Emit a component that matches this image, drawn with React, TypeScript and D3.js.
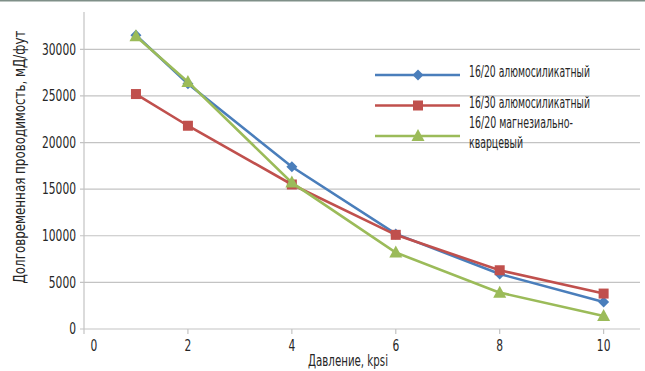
import * as d3 from "d3";
import { useLayoutEffect, useRef, useState } from "react";

const pressure = [1, 2, 4, 6, 8, 10];
const seriesNames = [
  ["16/20 алюмосиликатный"],
  ["16/30 алюмосиликатный"],
  ["16/20 магнезиально-", "кварцевый"],
];
const alumo1620 = [31500, 26300, 17400, 10200, 5900, 2900];
const alumo1630 = [25200, 21800, 15500, 10100, 6300, 3800];
const magnez1620 = [31400, 26500, 15700, 8200, 3900, 1400];
const xTicks = [0, 2, 4, 6, 8, 10];
const yTicks = [0, 5000, 10000, 15000, 20000, 25000, 30000];

const colors = ["#4a7ebb", "#c0504d", "#9bbb59"];
const markers = ["diamond", "square", "triangle"];
// approximate widths of the condensed labels in the source
const legendWidths = [[121], [121], [104, 54]];

const width = 645;
const height = 371;
const margin = { top: 12, right: 5, bottom: 42, left: 84 };
const font = "'DejaVu Sans Condensed', 'Liberation Sans Narrow', sans-serif";
const txt = "#262626";

// squeeze text horizontally to the width it has in the (condensed-font) original
const FitText = ({
  x,
  y,
  w,
  anchor = "start",
  rotate = 0,
  size = 15,
  children,
}: {
  x: number;
  y: number;
  w: number;
  anchor?: string;
  rotate?: number;
  size?: number;
  children: any;
}) => {
  const ref = useRef<SVGTextElement>(null);
  const [sx, setSx] = useState(0.8);
  useLayoutEffect(() => {
    if (ref.current) {
      const len = ref.current.getComputedTextLength();
      if (len > 0) setSx(w / len);
    }
  }, [w, children]);
  return (
    <g transform={`translate(${x},${y}) rotate(${rotate}) scale(${sx},1)`}>
      <text ref={ref} textAnchor={anchor} dy="0.35em" fontSize={size} fill={txt}>
        {children}
      </text>
    </g>
  );
};

const Marker = ({ type, x, y, color }: { type: string; x: number; y: number; color: string }) => {
  if (type === "square")
    return <rect x={x - 5} y={y - 5} width={10} height={10} fill={color} />;
  if (type === "diamond")
    return <path d={`M${x},${y - 5.5}L${x + 5.5},${y}L${x},${y + 5.5}L${x - 5.5},${y}Z`} fill={color} />;
  return <path d={`M${x},${y - 7}L${x + 6.5},${y + 5}L${x - 6.5},${y + 5}Z`} fill={color} />;
};

const App = () => {
  const innerWidth = width - margin.left - margin.right;
  const innerHeight = height - margin.top - margin.bottom;

  const xScale = d3.scaleLinear().domain([0, 10.7]).range([0, innerWidth]);
  const yScale = d3.scaleLinear().domain([0, 34000]).range([innerHeight, 0]);

  const series = [alumo1620, alumo1630, magnez1620];
  const line = d3
    .line<number>()
    .x((_, i) => xScale(pressure[i]))
    .y((d) => yScale(d));

  const legendRows = [75, 105.5, 136];

  return (
    <div style={{ position: "absolute", left: 0, top: 0 }}>
      <svg width={width} height={height} style={{ display: "block", background: "#fff" }}>
        <line x1={0} x2={width} y1={0.75} y2={0.75} stroke="#7f8f88" strokeWidth={1.5} />
        <g transform={`translate(${margin.left},${margin.top})`} fontFamily={font}>
          {yTicks.slice(1).map((t) => (
            <line key={t} x1={-4} x2={innerWidth} y1={yScale(t)} y2={yScale(t)} stroke="#c3c3c3" strokeWidth={1.2} />
          ))}
          <line x1={0} x2={0} y1={0} y2={innerHeight} stroke="#c3c3c3" strokeWidth={1.2} />
          <line x1={-4} x2={innerWidth} y1={innerHeight} y2={innerHeight} stroke="#c3c3c3" strokeWidth={1.2} />
          {xTicks.map((t) => (
            <line key={t} x1={xScale(t)} x2={xScale(t)} y1={innerHeight} y2={innerHeight + 5} stroke="#c3c3c3" strokeWidth={1.2} />
          ))}
          {yTicks.map((t) => (
            <FitText key={t} x={-8} y={yScale(t)} w={String(t).length * 6.8} anchor="end">
              {t}
            </FitText>
          ))}
          {xTicks.map((t) => (
            <FitText
              key={t}
              x={xScale(t) + (t === 0 ? 10 : 0)}
              y={innerHeight + 17}
              w={String(t).length * 6.8}
              anchor="middle"
            >
              {t}
            </FitText>
          ))}
          <FitText x={348 - margin.left} y={innerHeight + 32} w={80} anchor="middle">
            Давление, kpsi
          </FitText>
          <FitText x={20 - margin.left} y={157 - margin.top} w={253} anchor="middle" rotate={-90}>
            Долговременная проводимость, мД/фут
          </FitText>
          {series.map((s, i) => (
            <g key={i}>
              <path d={line(s)!} fill="none" stroke={colors[i]} strokeWidth={2.6} />
              {s.map((v, j) => (
                <Marker key={j} type={markers[i]} x={xScale(pressure[j])} y={yScale(v)} color={colors[i]} />
              ))}
            </g>
          ))}
        </g>
        <g fontFamily={font}>
          {seriesNames.map((parts, i) => (
            <g key={i}>
              <line x1={375} x2={460} y1={legendRows[i]} y2={legendRows[i]} stroke={colors[i]} strokeWidth={2.6} />
              <Marker type={markers[i]} x={418} y={legendRows[i]} color={colors[i]} />
              {parts.map((part, k) => (
                <FitText
                  key={k}
                  x={469}
                  y={legendRows[i] - 3 - (parts.length > 1 ? 10 : 0) + k * 19.5}
                  w={legendWidths[i][k]}
                >
                  {part}
                </FitText>
              ))}
            </g>
          ))}
        </g>
      </svg>
    </div>
  );
};

export default App;
